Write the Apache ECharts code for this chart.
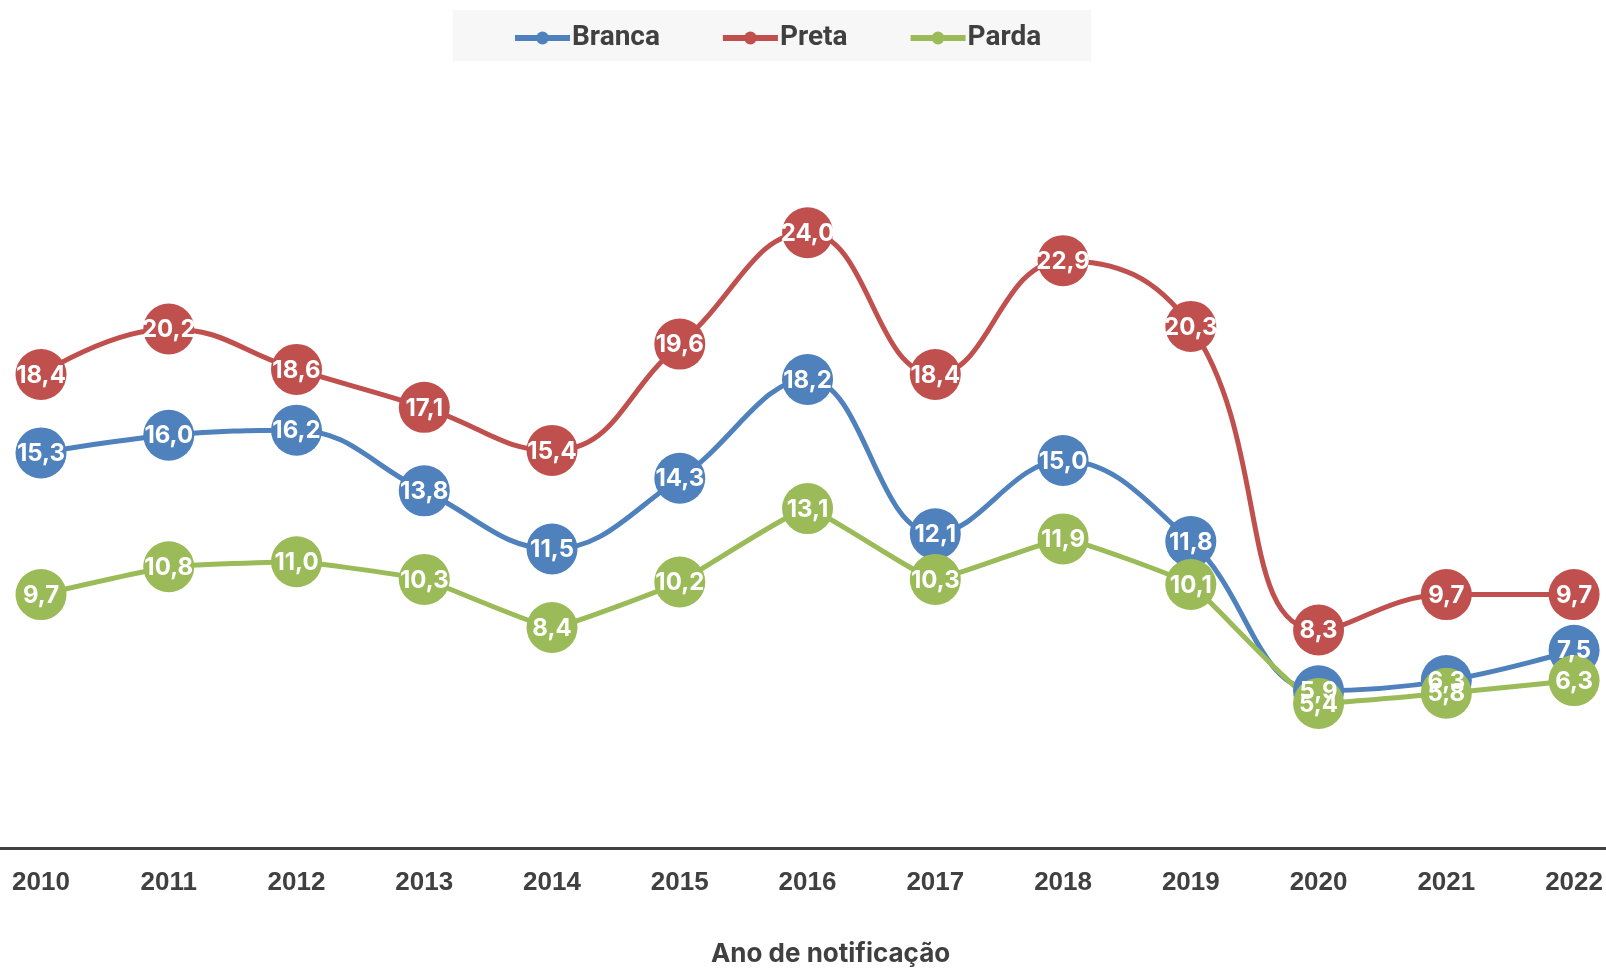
<!DOCTYPE html>
<html><head><meta charset="utf-8">
<script src="https://cdn.jsdelivr.net/npm/echarts@6/dist/echarts.min.js"></script>
<style>html,body{margin:0;padding:0;background:#fff}#c{width:1606px;height:972px}</style>
</head><body><div id="c"></div>
<script>
var categories = ['2010','2011','2012','2013','2014','2015','2016','2017','2018','2019','2020','2021','2022'];
var branca = [15.3,16.0,16.2,13.8,11.5,14.3,18.2,12.1,15.0,11.8,5.9,6.3,7.5];
var preta  = [18.4,20.2,18.6,17.1,15.4,19.6,24.0,18.4,22.9,20.3,8.3,9.7,9.7];
var parda  = [9.7,10.8,11.0,10.3,8.4,10.2,13.1,10.3,11.9,10.1,5.4,5.8,6.3];
var seriesNames = ['Branca','Preta','Parda'];
var colors = ['#4F81BD','#C0504D','#9BBB59'];
var xName = 'Ano de notificação';

function fmt(p){ return p.value.toFixed(1).replace('.', ','); }
function mk(name, data, color, smooth){
  return {
    name: name, type: 'line', data: data, smooth: smooth,
    symbol: 'circle', symbolSize: 51,
    lineStyle: {width: 5, color: color},
    itemStyle: {color: color},
    label: {show: true, position: 'inside', formatter: fmt, color: '#fff',
      fontFamily: 'Inter', fontWeight: 'bold', fontSize: 24, offset: [0, 1]},
    emphasis: {disabled: true}, z: 2
  };
}
var chart = echarts.init(document.getElementById('c'));
chart.setOption({
  animation: false,
  legend: {
    data: seriesNames, left: 453, top: 10,
    padding: [14, 50, 9, 59], backgroundColor: '#F7F7F7',
    itemGap: 60, itemWidth: 55, itemHeight: 16,
    lineStyle: {width: 6},
    textStyle: {fontFamily: 'Roboto', fontWeight: 'bold', fontSize: 28, color: '#404040', padding: [0,0,0,-3]}
  },
  grid: [
    {left: 41, right: 31, top: 81, bottom: 121},
    {left: 0, right: 0, top: 78, bottom: 124}
  ],
  xAxis: [
    {type: 'category', data: categories, boundaryGap: false, gridIndex: 0,
     axisLine: {show: false}, axisTick: {show: false},
     axisLabel: {margin: 30, fontFamily: 'Liberation Sans', fontWeight: 'bold', fontSize: 26, color: '#404040'},
     name: xName, nameLocation: 'middle', nameGap: 101,
     nameTextStyle: {fontFamily: 'Inter', fontWeight: 'bold', fontSize: 26, color: '#404040', padding: [0,0,0,46]}
    },
    {type: 'category', data: categories, gridIndex: 1,
     axisLine: {show: true, lineStyle: {color: '#404040', width: 3}},
     axisTick: {show: false}, axisLabel: {show: false}}
  ],
  yAxis: [
    {type: 'value', min: 0, max: 30, show: false, gridIndex: 0},
    {type: 'value', min: 0, max: 30, show: false, gridIndex: 1}
  ],
  series: [
    mk('Branca', branca, colors[0], 0.4),
    mk('Preta', preta, colors[1], 0.45),
    mk('Parda', parda, colors[2], 0.1)
  ]
});
</script></body></html>
